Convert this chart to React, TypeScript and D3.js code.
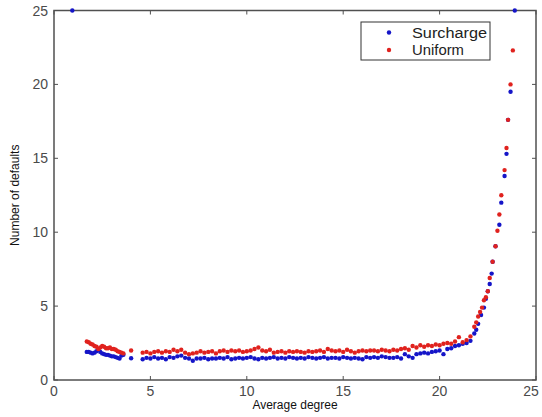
import React from "react";
import * as d3 from "d3";

// Shared average-degree values for the flat part of both series
const degree = [
  1.7, 1.8, 1.9, 2.0, 2.1, 2.2, 2.3, 2.4, 2.5, 2.6, 2.7, 2.8, 2.9, 3.0, 3.1, 3.2, 3.3, 3.4, 3.5, 3.6,
  4.0,
  4.6, 4.8, 5.0, 5.2, 5.4, 5.6, 5.8, 6.0, 6.2, 6.4, 6.6, 6.8, 7.0, 7.2, 7.4, 7.6, 7.8, 8.0, 8.2, 8.4,
  8.6, 8.8, 9.0, 9.2, 9.4, 9.6, 9.8, 10.0, 10.2, 10.4, 10.6, 10.8, 11.0, 11.2, 11.4, 11.6, 11.8, 12.0,
  12.2, 12.4, 12.6, 12.8, 13.0, 13.2, 13.4, 13.6, 13.8, 14.0, 14.2, 14.4, 14.6, 14.8, 15.0, 15.2, 15.4,
  15.6, 15.8, 16.0, 16.2, 16.4, 16.6, 16.8, 17.0, 17.2, 17.4, 17.6, 17.8, 18.0, 18.2, 18.4, 18.6, 18.8,
  19.0, 19.2, 19.4, 19.6, 19.8, 20.0, 20.2, 20.4, 20.6, 20.8, 21.0, 21.2, 21.4, 21.6,
];

const uniformFlat = [
  2.6, 2.55, 2.45, 2.4, 2.3, 2.25, 2.1, 2.2, 2.3, 2.25, 2.15, 2.15, 2.2, 2.1, 2.1, 2.05, 1.95, 1.9, 1.85, 1.8,
  2.0,
  1.85, 1.9, 1.8, 1.9, 1.95, 1.85, 1.95, 1.9, 2.05, 1.95, 2.05, 1.85, 1.75, 1.8, 1.85, 1.95, 1.85, 1.9, 1.95, 1.8,
  1.95, 2.0, 1.9, 2.0, 1.95, 2.0, 1.9, 1.95, 2.0, 2.1, 2.2, 2.0, 1.95, 2.05, 1.85, 1.9, 1.95, 1.85,
  1.95, 1.9, 1.95, 1.9, 1.85, 1.95, 1.9, 1.95, 2.0, 1.9, 2.1, 2.0, 1.95, 2.0, 1.9, 2.05, 1.95,
  1.85, 1.95, 2.0, 1.95, 2.0, 2.0, 1.95, 2.05, 2.0, 1.95, 2.05, 2.0, 2.1, 2.15, 2.05, 2.3, 2.2,
  2.35, 2.25, 2.35, 2.3, 2.4, 2.35, 2.45, 2.5, 2.45, 2.6, 2.9, 2.55, 2.7, 2.95,
];

const surchargeFlat = [
  1.9, 1.9, 1.85, 1.8, 1.85, 1.95, 2.05, 1.9, 1.8, 1.75, 1.7, 1.7, 1.65, 1.6, 1.6, 1.55, 1.5, 1.45, 1.65, 1.7,
  1.47,
  1.4, 1.5, 1.45, 1.55, 1.45, 1.5, 1.4, 1.55, 1.5, 1.6, 1.65, 1.5, 1.45, 1.3, 1.45, 1.45, 1.5, 1.4, 1.45, 1.45,
  1.5, 1.45, 1.55, 1.4, 1.45, 1.5, 1.45, 1.5, 1.55, 1.45, 1.4, 1.5, 1.45, 1.5, 1.55, 1.45, 1.5, 1.45,
  1.55, 1.5, 1.45, 1.5, 1.45, 1.55, 1.5, 1.45, 1.5, 1.55, 1.45, 1.5, 1.5, 1.45, 1.55, 1.5, 1.45,
  1.5, 1.45, 1.4, 1.55, 1.5, 1.55, 1.5, 1.6, 1.55, 1.5, 1.5, 1.55, 1.45, 1.75, 1.6, 1.5, 1.75,
  1.8, 1.85, 1.8, 1.9, 1.95, 2.0, 1.75, 2.1, 2.15, 2.3, 2.35, 2.45, 2.5, 2.65,
];

// Steep part of the curves
const uniformRiseX = [21.8, 21.9, 22.0, 22.1, 22.2, 22.3, 22.4, 22.5, 22.6, 22.75, 22.9, 23.0, 23.1, 23.2, 23.37, 23.47, 23.55, 23.68, 23.8];
const uniformRiseY = [3.6, 3.9, 4.3, 4.6, 4.9, 5.4, 5.6, 6.0, 6.9, 8.0, 9.05, 10.1, 11.2, 12.5, 14.2, 15.7, 17.6, 20.0, 22.3];

const surchargeRiseX = [0.95, 21.8, 21.9, 22.0, 22.15, 22.3, 22.4, 22.5, 22.6, 22.7, 22.75, 22.9, 23.1, 23.2, 23.37, 23.47, 23.55, 23.68, 23.9];
const surchargeRiseY = [25.0, 3.15, 3.4, 3.8, 4.4, 4.9, 5.5, 6.0, 6.5, 7.2, 8.0, 9.05, 10.5, 12.0, 13.8, 15.3, 17.6, 19.5, 25.0];

const xTicks = [0, 5, 10, 15, 20, 25];
const yTicks = [0, 5, 10, 15, 20, 25];
const seriesNames = ["Surcharge", "Uniform"];

const BLUE = "#1515c8";
const RED = "#e0221e";

export default function App() {
  const W = 542, H = 417;
  const left = 54, right = 536, top = 10.5, bottom = 380;
  const x = d3.scaleLinear().domain([0, 25]).range([left, right]);
  const y = d3.scaleLinear().domain([0, 25]).range([bottom, top]);

  const surcharge = degree.map((d, i) => [d, surchargeFlat[i]]).concat(surchargeRiseX.map((d, i) => [d, surchargeRiseY[i]]));
  const uniform = degree.map((d, i) => [d, uniformFlat[i]]).concat(uniformRiseX.map((d, i) => [d, uniformRiseY[i]]));

  const axisColor = "#505050";
  const tickLen = 4;
  const font = "'Liberation Sans', Arial, sans-serif";
  const R = 2.2;

  return (
    <svg width={W} height={H} style={{ position: "absolute", left: 0, top: 0, background: "#fff" }}>
      <rect x={0} y={0} width={W} height={H} fill="#fff" />
      {/* axes box */}
      <rect x={left} y={top} width={right - left} height={bottom - top} fill="none" stroke={axisColor} strokeWidth={1.5} />
      {xTicks.map((t) => (
        <g key={"x" + t}>
          <line x1={x(t)} x2={x(t)} y1={bottom} y2={bottom - tickLen} stroke={axisColor} />
          <line x1={x(t)} x2={x(t)} y1={top} y2={top + tickLen} stroke={axisColor} />
          <text x={Math.min(x(t), 531)} y={396} textAnchor="middle" fontSize={14} fontFamily={font} fill="#4a4a4a">{t}</text>
        </g>
      ))}
      {yTicks.map((t) => (
        <g key={"y" + t}>
          <line x1={left} x2={left + tickLen} y1={y(t)} y2={y(t)} stroke={axisColor} />
          <line x1={right} x2={right - tickLen} y1={y(t)} y2={y(t)} stroke={axisColor} />
          <text x={48} y={y(t) + 5} textAnchor="end" fontSize={14} fontFamily={font} fill="#4a4a4a">{t}</text>
        </g>
      ))}
      <text x={(left + right) / 2} y={409} textAnchor="middle" fontSize={12} fontFamily={font} fill="#111">Average degree</text>
      <text transform={`translate(19,${(top + bottom) / 2}) rotate(-90)`} textAnchor="middle" fontSize={12} fontFamily={font} fill="#111">Number of defaults</text>

      {/* data */}
      {surcharge.map((p, i) => (
        <circle key={"s" + i} cx={x(p[0])} cy={y(p[1])} r={R} fill={BLUE} />
      ))}
      {uniform.map((p, i) => (
        <circle key={"u" + i} cx={x(p[0])} cy={y(p[1])} r={R} fill={RED} />
      ))}

      {/* legend */}
      <rect x={361} y={22} width={129} height={38} fill="#fff" stroke="#333" strokeWidth={1} />
      {seriesNames.map((n, i) => (
        <g key={n}>
          <circle cx={389} cy={32.5 + i * 17.5} r={R} fill={i === 0 ? BLUE : RED} />
          <text x={412} y={37.5 + i * 17.5} fontSize={14} fontFamily={font} fill="#222"
            textLength={i === 0 ? 75 : 52} lengthAdjust="spacingAndGlyphs">{n}</text>
        </g>
      ))}
    </svg>
  );
}
